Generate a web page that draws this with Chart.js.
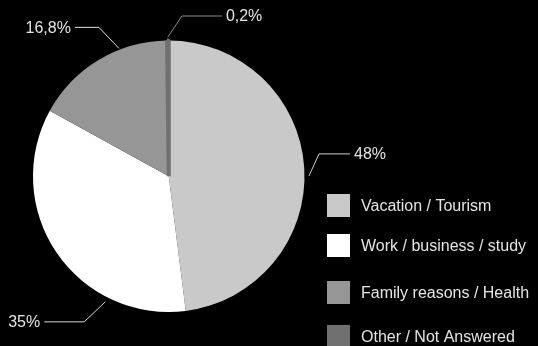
<!DOCTYPE html>
<html>
<head>
<meta charset="utf-8">
<script src="https://cdn.jsdelivr.net/npm/chart.js@4"></script>
<style>
  html, body { margin: 0; padding: 0; background: #000; }
  #wrap { width: 538px; height: 346px; }
</style>
</head>
<body>
<div id="wrap"><canvas id="c" width="538" height="346"></canvas></div>
<script>
// Reasons for travel (share of respondents, %)
const categories = ['Vacation / Tourism', 'Work / business / study', 'Family reasons / Health', 'Other / Not Answered'];
const shares = [48, 35, 16.8, 0.2];
const sliceColors = ['#c9c9c9', '#ffffff', '#969696', '#707070'];

// Leader-line layout per slice: where on the slice the line leaves the rim (0..1 of its span),
// distance from the rim, elbow offset, horizontal run and its direction.
const leaderAt = [0.52, 0.27, 0.66, 0.5];
const leaderGap = [4.5, 5, 1.5, 3.5];
const leaderElbow = [[10, -22], [-21, 20], [-20, -21], [14, -21]];
const leaderRun = [31, 40, 24, 40];
const leaderLineColor = ['#cfcfcf', '#d6d6d6', '#e2e2e2', '#8a8a8a'];

// Legend rows (vertical centres) on the lower right
const legendRows = [205.5, 245.5, 292.5, 336.5];

const FONT = '16px "Liberation Sans", Arial, sans-serif';
const TEXT_COLOR = '#e4e4e4';

const fmt = v => String(v).replace('.', ',') + '%';

const leaderLabels = {
  id: 'leaderLabels',
  afterDatasetsDraw(chart) {
    const ctx = chart.ctx;
    const arcs = chart.getDatasetMeta(0).data;
    ctx.save();
    ctx.font = FONT;
    ctx.textBaseline = 'middle';
    arcs.forEach((arc, i) => {
      const { x, y, startAngle, endAngle, outerRadius } = arc.getProps(['x', 'y', 'startAngle', 'endAngle', 'outerRadius'], true);
      const a = startAngle + (endAngle - startAngle) * leaderAt[i];
      const r = outerRadius + leaderGap[i];
      const sx = x + Math.cos(a) * r;
      const sy = y + Math.sin(a) * r;
      const ex = sx + leaderElbow[i][0];
      const ey = sy + leaderElbow[i][1];
      const dir = leaderElbow[i][0] >= 0 ? 1 : -1;
      const hx = ex + dir * leaderRun[i];
      ctx.strokeStyle = leaderLineColor[i];
      ctx.lineWidth = 1;
      ctx.beginPath();
      ctx.moveTo(sx, sy);
      ctx.lineTo(ex, ey);
      ctx.lineTo(hx, ey);
      ctx.stroke();
      ctx.fillStyle = TEXT_COLOR;
      ctx.textAlign = dir > 0 ? 'left' : 'right';
      ctx.fillText(fmt(shares[i]), hx + dir * 4, ey + 1);
    });
    ctx.restore();
  }
};

const sideLegend = {
  id: 'sideLegend',
  afterDraw(chart) {
    const ctx = chart.ctx;
    const colors = chart.data.datasets[0].backgroundColor;
    ctx.save();
    ctx.font = FONT;
    ctx.textBaseline = 'middle';
    ctx.textAlign = 'left';
    chart.data.labels.forEach((lab, i) => {
      const cy = legendRows[i];
      ctx.fillStyle = colors[i];
      ctx.fillRect(327, cy - 11.5, 23, 23);
      ctx.fillStyle = TEXT_COLOR;
      ctx.fillText(lab, 361, cy + 1);
    });
    ctx.restore();
  }
};

new Chart(document.getElementById('c'), {
  type: 'pie',
  data: {
    labels: categories,
    datasets: [{
      data: shares,
      backgroundColor: sliceColors,
      borderColor: sliceColors,
      borderWidth: [0, 0, 0, 4],
      hoverOffset: 0
    }]
  },
  options: {
    responsive: false,
    devicePixelRatio: 1,
    animation: false,
    events: [],
    rotation: 0,
    layout: { padding: { left: 30.5, right: 231, top: 38.5, bottom: 32 } },
    plugins: {
      legend: { display: false },
      tooltip: { enabled: false }
    }
  },
  plugins: [leaderLabels, sideLegend]
});
</script>
</body>
</html>
